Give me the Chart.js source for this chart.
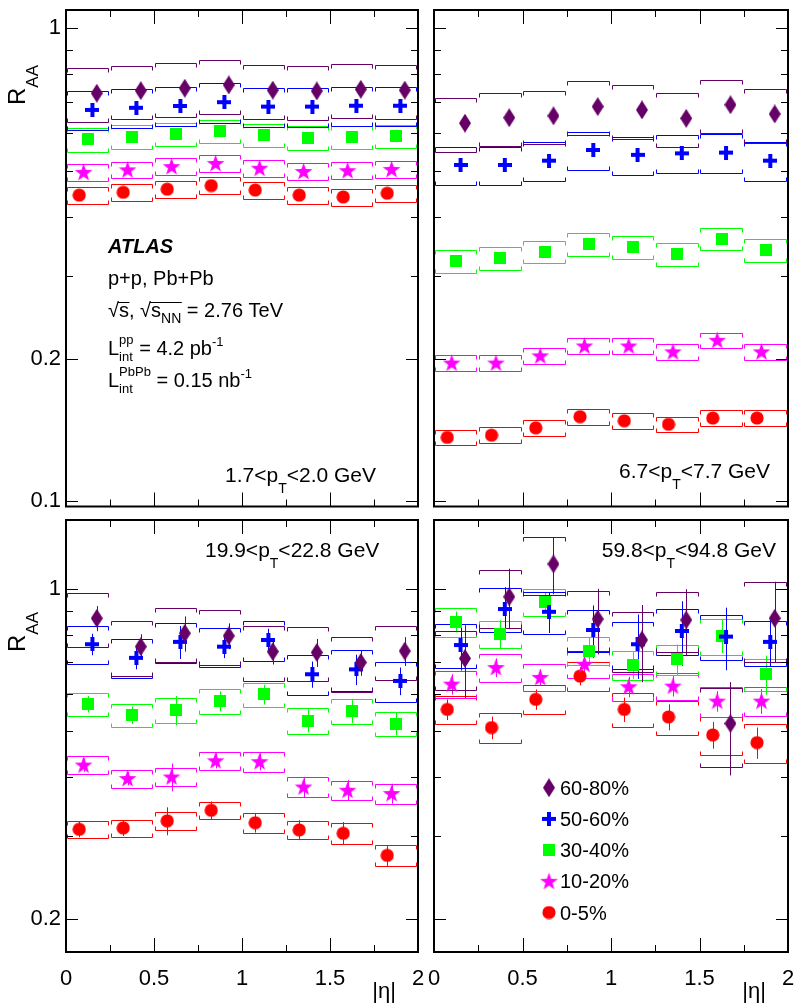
<!DOCTYPE html>
<html><head><meta charset="utf-8">
<script src="https://cdn.jsdelivr.net/npm/chart.js@4.4.0/dist/chart.umd.min.js"></script>
<style>
html,body{margin:0;padding:0;background:#fff;}
#wrap{position:relative;width:796px;height:1004px;overflow:hidden;}
#wrap canvas{position:absolute;left:0;top:0;}
</style></head>
<body><div id="wrap">
<canvas id="c1" width="796" height="1004"></canvas>
<canvas id="c2" width="796" height="1004"></canvas>
<canvas id="c3" width="796" height="1004"></canvas>
<canvas id="c4" width="796" height="1004"></canvas>
</div>
<script>
// ---------------- DATA ----------------
const etaBinCenters = [0.125, 0.375, 0.625, 0.875, 1.125, 1.375, 1.625, 1.875];
const etaTicks = [0, 0.5, 1, 1.5, 2];
const etaMinorTicks = [0, 0.25, 0.5, 0.75, 1, 1.25, 1.5, 1.75, 2];
const raaTicksTop = [0.1, 0.2, 1];
const raaTicksBottom = [0.2, 1];
const raaMinorTicks = [0.1, 0.2, 0.3, 0.4, 0.5, 0.6, 0.7, 0.8, 0.9, 1];
const centralities = ['60-80%', '50-60%', '30-40%', '10-20%', '0-5%'];

// panel 1: 1.7<pT<2.0 GeV
const raa1_6080 = [0.729, 0.738, 0.747, 0.759, 0.740, 0.737, 0.743, 0.740];
const raa1_5060 = [0.672, 0.679, 0.685, 0.698, 0.683, 0.683, 0.686, 0.686];
const raa1_3040 = [0.582, 0.590, 0.597, 0.606, 0.595, 0.587, 0.588, 0.592];
const raa1_1020 = [0.496, 0.502, 0.510, 0.518, 0.506, 0.498, 0.500, 0.503];
const raa1_0005 = [0.444, 0.450, 0.457, 0.465, 0.455, 0.444, 0.440, 0.448];
const sys1_6080 = [0.13, 0.13, 0.13, 0.13, 0.13, 0.13, 0.13, 0.13];
const sys1_5060 = [0.095, 0.095, 0.095, 0.095, 0.095, 0.095, 0.095, 0.095];
const sys1_3040 = [0.057, 0.057, 0.057, 0.057, 0.057, 0.057, 0.057, 0.057];
const sys1_1020 = [0.041, 0.041, 0.041, 0.041, 0.041, 0.041, 0.041, 0.041];
const sys1_0005 = [0.041, 0.041, 0.041, 0.041, 0.041, 0.041, 0.041, 0.041];

// panel 2: 6.7<pT<7.7 GeV
const raa2_6080 = [0.630, 0.647, 0.653, 0.683, 0.672, 0.645, 0.689, 0.659];
const raa2_5060 = [0.514, 0.514, 0.525, 0.553, 0.540, 0.544, 0.546, 0.525];
const raa2_3040 = [0.322, 0.327, 0.337, 0.350, 0.344, 0.333, 0.359, 0.340];
const raa2_1020 = [0.196, 0.196, 0.203, 0.213, 0.213, 0.207, 0.219, 0.207];
const raa2_0005 = [0.1365, 0.138, 0.143, 0.151, 0.148, 0.1455, 0.150, 0.150];
const sys2_6080 = [0.13, 0.13, 0.13, 0.13, 0.13, 0.13, 0.13, 0.13];
const sys2_5060 = [0.093, 0.093, 0.093, 0.093, 0.093, 0.093, 0.093, 0.093];
const sys2_3040 = [0.055, 0.055, 0.055, 0.055, 0.055, 0.055, 0.055, 0.055];
const sys2_1020 = [0.038, 0.038, 0.038, 0.038, 0.038, 0.038, 0.038, 0.038];
const sys2_0005 = [0.038, 0.038, 0.038, 0.038, 0.038, 0.038, 0.038, 0.038];

// panel 3: 19.9<pT<22.8 GeV
const raa3_6080 = [0.867, 0.755, 0.806, 0.796, 0.737, 0.734, 0.699, 0.739];
const raa3_5060 = [0.764, 0.715, 0.773, 0.755, 0.780, 0.660, 0.676, 0.639];
const raa3_3040 = [0.571, 0.541, 0.554, 0.579, 0.598, 0.526, 0.551, 0.519];
const raa3_1020 = [0.424, 0.397, 0.400, 0.433, 0.431, 0.381, 0.375, 0.369];
const raa3_0005 = [0.310, 0.312, 0.323, 0.340, 0.320, 0.309, 0.304, 0.273];
const sys3_6080 = [0.132, 0.132, 0.132, 0.132, 0.132, 0.132, 0.132, 0.132];
const sys3_5060 = [0.094, 0.095, 0.096, 0.096, 0.096, 0.098, 0.099, 0.098];
const sys3_3040 = [0.056, 0.057, 0.059, 0.060, 0.060, 0.062, 0.061, 0.060];
const sys3_1020 = [0.044, 0.044, 0.043, 0.043, 0.049, 0.049, 0.047, 0.049];
const sys3_0005 = [0.041, 0.041, 0.043, 0.043, 0.047, 0.045, 0.053, 0.053];
const stat3_6080 = [0.053, 0.047, 0.069, 0.050, 0.045, 0.050, 0.044, 0.052];
const stat3_5060 = [0.040, 0.039, 0.062, 0.041, 0.044, 0.042, 0.050, 0.043];
const stat3_3040 = [0.023, 0.023, 0.040, 0.028, 0.029, 0.029, 0.031, 0.029];
const stat3_1020 = [0.014, 0.013, 0.027, 0.016, 0.018, 0.019, 0.019, 0.018];
const stat3_0005 = [0.012, 0.012, 0.022, 0.015, 0.015, 0.015, 0.017, 0.014];

// panel 4: 59.8<pT<94.8 GeV
const raa4_6080 = [0.713, 0.963, 1.13, 0.864, 0.780, 0.860, 0.519, 0.867];
const raa4_5060 = [0.761, 0.907, 0.895, 0.819, 0.764, 0.815, 0.793, 0.773];
const raa4_3040 = [0.853, 0.803, 0.937, 0.740, 0.690, 0.710, 0.796, 0.660];
const raa4_1020 = [0.629, 0.682, 0.650, 0.693, 0.621, 0.623, 0.579, 0.579];
const raa4_0005 = [0.556, 0.509, 0.584, 0.654, 0.556, 0.536, 0.491, 0.473];
const sys4_6080 = [0.141, 0.142, 0.141, 0.146, 0.146, 0.145, 0.191, 0.193];
const sys4_5060 = [0.106, 0.106, 0.102, 0.100, 0.112, 0.112, 0.110, 0.109];
const sys4_3040 = [0.071, 0.068, 0.065, 0.068, 0.072, 0.073, 0.088, 0.078];
const sys4_1020 = [0.065, 0.066, 0.065, 0.067, 0.065, 0.065, 0.073, 0.071];
const sys4_0005 = [0.067, 0.071, 0.071, 0.070, 0.081, 0.083, 0.093, 0.095];
const stat4_6080 = [0.125, 0.141, 0.155, 0.137, 0.145, 0.139, 0.116, 0.169];
const stat4_5060 = [0.089, 0.102, 0.088, 0.104, 0.119, 0.127, 0.120, 0.087];
const stat4_3040 = [0.043, 0.056, 0.047, 0.052, 0.045, 0.053, 0.064, 0.063];
const stat4_1020 = [0.031, 0.031, 0.026, 0.028, 0.031, 0.031, 0.029, 0.035];
const stat4_0005 = [0.028, 0.028, 0.029, 0.029, 0.033, 0.034, 0.032, 0.036];

// ---------------- STYLE ----------------
const FONT = '"Liberation Sans", Arial, Helvetica, sans-serif';
const seriesColors = ['#660066', '#0000ff', '#00ff00', '#ff00ff', '#ff0000'];
const seriesMarkers = ['diamond', 'plus', 'square', 'star', 'circle'];
const seriesXShift = [0.05, 0.025, 0, -0.025, -0.05];

function makeMarker(kind, color) {
  const c = document.createElement('canvas');
  const dims = {diamond:[12,19], plus:[14,14], square:[12,12], star:[19,19], circle:[14,14]}[kind];
  c.width = dims[0]; c.height = dims[1];
  const g = c.getContext('2d');
  g.fillStyle = color;
  if (kind === 'diamond') {
    g.beginPath(); g.moveTo(6,0); g.lineTo(12,9.5); g.lineTo(6,19); g.lineTo(0,9.5); g.closePath(); g.fill();
  } else if (kind === 'plus') {
    g.fillRect(5,0,4,14); g.fillRect(0,5,14,4);
  } else if (kind === 'square') {
    g.fillRect(0,0,12,12);
  } else if (kind === 'circle') {
    g.beginPath(); g.arc(7,7,6.6,0,Math.PI*2); g.fill();
  } else if (kind === 'star') {
    const cx = 9.5, cy = 10, R = 9.3, r = 3.7;
    g.beginPath();
    for (let k = 0; k < 10; k++) {
      const rad = k % 2 === 0 ? R : r;
      const a = -Math.PI/2 + k*Math.PI/5;
      const px = cx + rad*Math.cos(a), py = cy + rad*Math.sin(a);
      if (k === 0) g.moveTo(px,py); else g.lineTo(px,py);
    }
    g.closePath(); g.fill();
  }
  return c;
}
const markerImages = seriesMarkers.map((m,i) => makeMarker(m, seriesColors[i]));

function drawRich(ctx, x, y, parts, baseSize) {
  let cx = x, pend = 0;
  parts.forEach(p => {
    const size = p.size || baseSize || 20;
    ctx.font = (p.style ? p.style + ' ' : '') + size + 'px ' + FONT;
    const w = ctx.measureText(p.t).width;
    ctx.fillText(p.t, cx, y + (p.dy || 0));
    if (p.over) {
      ctx.save(); ctx.lineWidth = 1; ctx.strokeStyle = ctx.fillStyle;
      ctx.beginPath(); ctx.moveTo(cx - 1, y - 14.5); ctx.lineTo(cx + w + 0.5, y - 14.5); ctx.stroke();
      ctx.restore();
    }
    if (p.keep) { pend = Math.max(pend, w); }
    else { cx += Math.max(w, pend); pend = 0; }
  });
}

// --------------- PLUGINS ---------------
const errorPlugin = {
  id: 'raaErrors',
  beforeDatasetsDraw(chart) {
    const {ctx, chartArea: ca, scales: {x, y}} = chart;
    ctx.save();
    ctx.beginPath(); ctx.rect(ca.left, ca.top, ca.right - ca.left, ca.bottom - ca.top); ctx.clip();
    chart.data.datasets.slice().reverse().forEach(ds => {
      ctx.strokeStyle = ds.lineColor; ctx.lineWidth = 1;
      ds.raa.forEach((v, j) => {
        const c = etaBinCenters[j];
        const x1 = Math.round(x.getPixelForValue(c - 0.122)) + 0.5;
        const x2 = Math.round(x.getPixelForValue(c + 0.114)) + 0.5;
        const yt = Math.round(y.getPixelForValue(v * (1 + ds.sys[j]))) + 0.5;
        const yb = Math.round(y.getPixelForValue(v * (1 - ds.sys[j]))) + 0.5;
        ctx.beginPath();
        ctx.moveTo(x1, yt + 4); ctx.lineTo(x1, yt); ctx.lineTo(x2, yt); ctx.lineTo(x2, yt + 4);
        ctx.moveTo(x1, yb - 4); ctx.lineTo(x1, yb); ctx.lineTo(x2, yb); ctx.lineTo(x2, yb - 4);
        ctx.stroke();
        if (ds.stat) {
          const px = Math.round(x.getPixelForValue(c + ds.xShift)) + 0.5;
          ctx.beginPath();
          ctx.moveTo(px, y.getPixelForValue(v + ds.stat[j]));
          ctx.lineTo(px, y.getPixelForValue(v - ds.stat[j]));
          ctx.stroke();
        }
      });
    });
    ctx.restore();
  }
};

function makeFramePlugin(majorY) {
  return {
    id: 'frame',
    afterDraw(chart) {
      const {ctx, chartArea: ca, scales: {x, y}} = chart;
      ctx.save();
      ctx.strokeStyle = '#000'; ctx.lineWidth = 1;
      ctx.beginPath();
      etaMinorTicks.forEach(v => {
        const px = Math.round(x.getPixelForValue(v)) + 0.5;
        const len = etaTicks.includes(v) ? 14 : 7;
        ctx.moveTo(px, ca.bottom); ctx.lineTo(px, ca.bottom - len);
        ctx.moveTo(px, ca.top); ctx.lineTo(px, ca.top + len);
      });
      raaMinorTicks.forEach(v => {
        if (v < y.min || v > y.max) return;
        const py = Math.round(y.getPixelForValue(v)) + 0.5;
        const len = majorY.includes(v) ? 12 : 7;
        ctx.moveTo(ca.left, py); ctx.lineTo(ca.left + len, py);
        ctx.moveTo(ca.right, py); ctx.lineTo(ca.right - len, py);
      });
      ctx.stroke();
      ctx.lineWidth = 2;
      ctx.strokeRect(ca.left, ca.top, ca.right - ca.left, ca.bottom - ca.top);
      ctx.restore();
    }
  };
}

function makeTextPlugin(items) {
  return {
    id: 'texts',
    afterDraw(chart) {
      const ctx = chart.ctx;
      ctx.save();
      ctx.fillStyle = '#000'; ctx.strokeStyle = '#000';
      ctx.textAlign = 'left'; ctx.textBaseline = 'alphabetic';
      items.forEach(it => {
        if (it.rotate) {
          ctx.save(); ctx.translate(it.x, it.y); ctx.rotate(-Math.PI / 2);
          drawRich(ctx, 0, 0, it.parts, it.size);
          ctx.restore();
        } else if (it.alignRight) {
          ctx.font = it.size + 'px ' + FONT;
          ctx.textAlign = 'right';
          ctx.fillText(it.parts[0].t, it.x, it.y);
          ctx.textAlign = 'left';
        } else {
          drawRich(ctx, it.x, it.y, it.parts, it.size);
        }
      });
      ctx.restore();
    }
  };
}

const legendPlugin = {
  id: 'raaLegend',
  afterDraw(chart) {
    const ctx = chart.ctx;
    ctx.save();
    ctx.fillStyle = '#000'; ctx.font = '20px ' + FONT; ctx.textBaseline = 'alphabetic';
    centralities.forEach((lab, i) => {
      const cy = 787.7 + i * 31.2;
      const img = markerImages[i];
      ctx.drawImage(img, 549 - img.width / 2, cy - img.height / 2);
      ctx.fillText(lab, 560, cy + 7);
    });
    ctx.restore();
  }
};

// --------------- PANELS ---------------
const ptLabel = (a, b) => [{t: a + '<p', size: 21}, {t: 'T', size: 14, dy: 11}, {t: '<' + b + ' GeV', size: 21}];
const raaTitle = [{t: 'R', size: 24}, {t: 'AA', size: 17, dy: 13}];

const panels = [
  {id: 'c1', area: {left: 66, top: 10, right: 418, bottom: 506.5}, yMin: 0.0975, yMax: 1.093,
   yLabels: raaTicksTop, showY: true, showX: false,
   raa: [raa1_6080, raa1_5060, raa1_3040, raa1_1020, raa1_0005],
   sys: [sys1_6080, sys1_5060, sys1_3040, sys1_1020, sys1_0005], stat: null,
   texts: [
     {x: 108, y: 252.7, parts: [{t: 'ATLAS', style: 'italic bold', size: 20}]},
     {x: 108, y: 285, parts: [{t: 'p+p, Pb+Pb'}]},
     {x: 108, y: 317, parts: [{t: '√'}, {t: 's', over: true}, {t: ', '}, {t: '√'}, {t: 's', over: true}, {t: 'NN', size: 14, dy: 6, over: true}, {t: ' = 2.76 TeV'}]},
     {x: 108, y: 355, parts: [{t: 'L'}, {t: 'pp', size: 13, dy: -11, keep: true}, {t: 'int', size: 13, dy: 6}, {t: ' = 4.2 pb'}, {t: '-1', size: 13, dy: -9}]},
     {x: 108, y: 387, parts: [{t: 'L'}, {t: 'PbPb', size: 13, dy: -11, keep: true}, {t: 'int', size: 13, dy: 6}, {t: ' = 0.15 nb'}, {t: '-1', size: 13, dy: -9}]},
     {x: 225, y: 481.7, parts: ptLabel('1.7', '2.0')},
     {x: 25, y: 105, rotate: true, parts: raaTitle}
   ]},
  {id: 'c2', area: {left: 434, top: 10, right: 788, bottom: 506.5}, yMin: 0.0975, yMax: 1.093,
   yLabels: raaTicksTop, showY: false, showX: false,
   raa: [raa2_6080, raa2_5060, raa2_3040, raa2_1020, raa2_0005],
   sys: [sys2_6080, sys2_5060, sys2_3040, sys2_1020, sys2_0005], stat: null,
   texts: [{x: 619, y: 478.3, parts: ptLabel('6.7', '7.7')}]},
  {id: 'c3', area: {left: 66, top: 520, right: 418, bottom: 952}, yMin: 0.1704, yMax: 1.40,
   yLabels: raaTicksBottom, showY: true, showX: true,
   raa: [raa3_6080, raa3_5060, raa3_3040, raa3_1020, raa3_0005],
   sys: [sys3_6080, sys3_5060, sys3_3040, sys3_1020, sys3_0005],
   stat: [stat3_6080, stat3_5060, stat3_3040, stat3_1020, stat3_0005],
   texts: [
     {x: 205, y: 556.7, parts: ptLabel('19.9', '22.8')},
     {x: 25, y: 652, rotate: true, parts: raaTitle},
     {x: 396, y: 998, alignRight: true, size: 22, parts: [{t: '|η|'}]}
   ]},
  {id: 'c4', area: {left: 434, top: 520, right: 788, bottom: 952}, yMin: 0.1704, yMax: 1.40,
   yLabels: raaTicksBottom, showY: false, showX: true, legend: true,
   raa: [raa4_6080, raa4_5060, raa4_3040, raa4_1020, raa4_0005],
   sys: [sys4_6080, sys4_5060, sys4_3040, sys4_1020, sys4_0005],
   stat: [stat4_6080, stat4_5060, stat4_3040, stat4_1020, stat4_0005],
   texts: [
     {x: 601.7, y: 556.7, parts: ptLabel('59.8', '94.8')},
     {x: 766, y: 998, alignRight: true, size: 22, parts: [{t: '|η|'}]}
   ]}
];

const W = 796, H = 1004;
panels.forEach(p => {
  const a = p.area;
  const datasets = p.raa.map((vals, i) => ({
    label: centralities[i],
    data: vals.map((v, j) => ({x: etaBinCenters[j] + seriesXShift[i], y: v})),
    raa: vals, sys: p.sys[i], stat: p.stat ? p.stat[i] : null, xShift: seriesXShift[i],
    lineColor: seriesColors[i],
    pointStyle: markerImages[i], pointRadius: 6, pointHoverRadius: 6,
    backgroundColor: seriesColors[i], borderColor: seriesColors[i], showLine: false
  }));
  const plugins = [errorPlugin, makeFramePlugin(p.yLabels), makeTextPlugin(p.texts)];
  if (p.legend) plugins.push(legendPlugin);
  new Chart(document.getElementById(p.id), {
    type: 'scatter',
    data: {datasets},
    plugins,
    options: {
      responsive: false, animation: false, events: [],
      layout: {padding: {left: p.showY ? 0 : a.left, top: a.top, right: W - a.right, bottom: p.showX ? 0 : H - a.bottom}},
      plugins: {legend: {display: false}, tooltip: {enabled: false}},
      scales: {
        x: {
          type: 'linear', min: 0, max: 2, display: p.showX, position: 'bottom',
          afterFit: s => { s.height = p.showX ? (H - a.bottom) : 0; s.paddingLeft = 0; s.paddingRight = 0; },
          afterBuildTicks: s => { s.ticks = etaTicks.map(v => ({value: v})); },
          grid: {display: false, drawTicks: false}, border: {display: false},
          ticks: {autoSkip: false, maxRotation: 0, padding: 14, color: '#000',
                  font: {family: FONT, size: 22}, callback: v => String(v)}
        },
        y: {
          type: 'logarithmic', min: p.yMin, max: p.yMax, display: p.showY, position: 'left',
          afterFit: s => { s.width = p.showY ? a.left : 0; s.paddingTop = 0; s.paddingBottom = 0; },
          afterBuildTicks: s => { s.ticks = p.yLabels.map(v => ({value: v})); },
          grid: {display: false, drawTicks: false}, border: {display: false},
          ticks: {autoSkip: false, padding: 5, color: '#000',
                  font: {family: FONT, size: 22}, callback: v => String(v)}
        }
      }
    }
  });
});
</script>
</body></html>
